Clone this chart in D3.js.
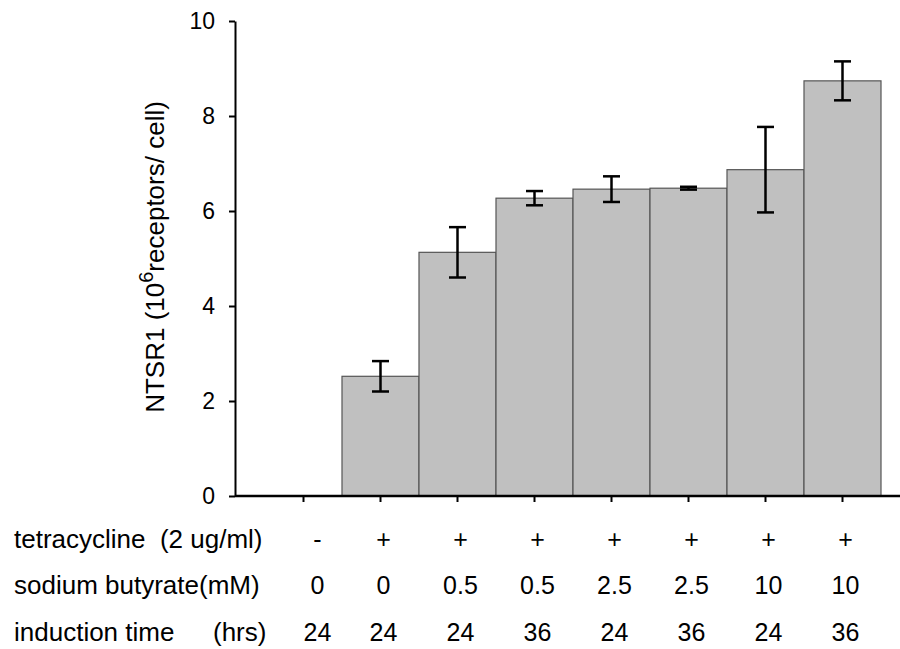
<!DOCTYPE html>
<html>
<head>
<meta charset="utf-8">
<script src="https://cdn.jsdelivr.net/npm/d3@7"></script>
<style>
  body { margin: 0; background: #fff; }
  text { font-family: "Liberation Sans", Arial, sans-serif; fill: #000; white-space: pre; }
</style>
</head>
<body>
<div class="barchart"></div>
<script>
// data
var groups = ["g1", "g2", "g3", "g4", "g5", "g6", "g7", "g8"];
var means  = [0, 2.52, 5.13, 6.27, 6.46, 6.48, 6.87, 8.74];
var errs   = [0, 0.32, 0.53, 0.15, 0.27, 0.03, 0.90, 0.41];
var yTicks = [0, 2, 4, 6, 8, 10];

var rowNames = ["tetracycline  (2 ug/ml)", "sodium butyrate(mM)", "induction time"];
var tetra    = ["-", "+", "+", "+", "+", "+", "+", "+"];
var butyrate = ["0", "0", "0.5", "0.5", "2.5", "2.5", "10", "10"];
var hours    = ["24", "24", "24", "36", "24", "36", "24", "36"];

var width = 900, height = 649;
var axisX = 235, baseY = 496, topY = 21;

var svg = d3.select(".barchart")
  .append("svg")
  .attr("width", width)
  .attr("height", height);

var x = d3.scaleBand()
  .domain(groups)
  .range([265, 881])
  .padding(0);

var y = d3.scaleLinear()
  .domain([0, 10])
  .range([baseY, topY]);

// bars
svg.selectAll(".bar")
  .data(groups)
  .enter()
  .append("rect")
  .attr("class", "bar")
  .attr("x", function(d) { return x(d); })
  .attr("y", function(d, i) { return y(means[i]); })
  .attr("width", x.bandwidth())
  .attr("height", function(d, i) { return baseY - y(means[i]); })
  .attr("fill", function(d, i) { return means[i] > 0 ? "#c0c0c0" : "none"; })
  .attr("stroke", function(d, i) { return means[i] > 0 ? "#555" : "none"; })
  .attr("stroke-width", 1.2);

// error bars
var capW = 17;
var eb = svg.selectAll(".err")
  .data(groups.filter(function(d, i) { return errs[i] > 0; }))
  .enter()
  .append("g")
  .attr("class", "err")
  .attr("stroke", "#000")
  .attr("stroke-width", 2.5);

eb.append("line")
  .attr("x1", function(d) { return x(d) + x.bandwidth() / 2; })
  .attr("x2", function(d) { return x(d) + x.bandwidth() / 2; })
  .attr("y1", function(d) { var i = groups.indexOf(d); return y(means[i] + errs[i]); })
  .attr("y2", function(d) { var i = groups.indexOf(d); return y(means[i] - errs[i]); });

[1, -1].forEach(function(s) {
  eb.append("line")
    .attr("x1", function(d) { return x(d) + x.bandwidth() / 2 - capW / 2; })
    .attr("x2", function(d) { return x(d) + x.bandwidth() / 2 + capW / 2; })
    .attr("y1", function(d) { var i = groups.indexOf(d); return y(means[i] + s * errs[i]); })
    .attr("y2", function(d) { var i = groups.indexOf(d); return y(means[i] + s * errs[i]); });
});

// y axis
var yAxis = d3.axisLeft(y)
  .tickValues(yTicks)
  .tickSize(6)
  .tickSizeOuter(0)
  .tickPadding(14);

var gy = svg.append("g")
  .attr("transform", "translate(" + axisX + ",0)")
  .call(yAxis)
  .attr("font-size", null)
  .attr("font-family", null);
gy.select(".domain").attr("stroke-width", 2);
gy.selectAll(".tick line").attr("stroke-width", 2);
gy.selectAll(".tick text")
  .style("font-size", "23px");

// x axis
var xAxis = d3.axisBottom(x)
  .tickSize(6)
  .tickFormat("");

var gx = svg.append("g")
  .attr("transform", "translate(0," + baseY + ")")
  .call(xAxis);
gx.select(".domain").remove();
gx.selectAll(".tick line").attr("stroke-width", 2);
gx.append("line")
  .attr("x1", axisX)
  .attr("x2", width)
  .attr("y1", 0)
  .attr("y2", 0)
  .attr("stroke", "#000")
  .attr("stroke-width", 2.5);

// y label
var ylab = svg.append("text")
  .attr("transform", "translate(164,257) rotate(-90)")
  .attr("text-anchor", "middle")
  .style("font-size", "26px");
ylab.append("tspan").text("NTSR1 (10");
ylab.append("tspan").attr("dy", -11).style("font-size", "20px").text("6");
ylab.append("tspan").attr("dy", 11).text("receptors/ cell)");

// condition table under the axis
var rowY = [548, 594, 641];
var rows = [tetra, butyrate, hours];

rowNames.forEach(function(name, r) {
  svg.append("text")
    .attr("x", 14)
    .attr("y", rowY[r])
    .style("font-size", "26px")
    .text(name);
});
svg.append("text")
  .attr("x", 213)
  .attr("y", rowY[2])
  .style("font-size", "26px")
  .text("(hrs)");

rows.forEach(function(vals, r) {
  svg.selectAll(".row" + r)
    .data(groups)
    .enter()
    .append("text")
    .attr("class", "row" + r)
    .attr("x", function(d, i) { return x(d) + x.bandwidth() / 2 + (i === 0 ? 14 : 3); })
    .attr("y", rowY[r])
    .attr("text-anchor", "middle")
    .style("font-size", "25px")
    .text(function(d, i) { return vals[i]; });
});
</script>
</body>
</html>
